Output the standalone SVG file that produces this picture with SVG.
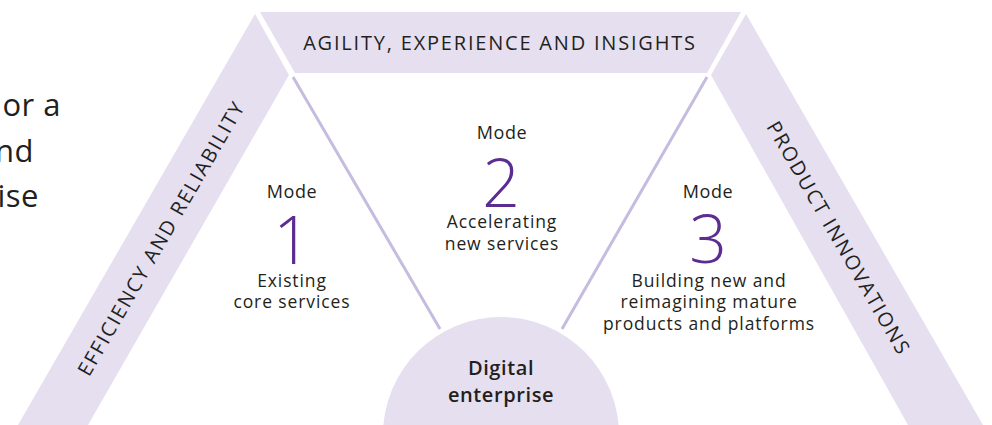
<svg xmlns="http://www.w3.org/2000/svg" width="992" height="425" viewBox="0 0 992 425">
<style>
.band{fill:#e5dff0}
.conn{stroke:#c6bcdf;stroke-width:3;fill:none}
.t{font-family:"Open Sans","Liberation Sans",sans-serif;fill:#231f20}
.cap{font-size:20px;letter-spacing:1.8px}
.mode{font-size:18px;letter-spacing:0.6px;text-anchor:middle}
.desc{font-size:17.5px;letter-spacing:0.9px;text-anchor:middle}
.num{font-family:"Open Sans","Liberation Sans",sans-serif;font-weight:300;font-size:66px;fill:#5c2d91;text-anchor:middle}
.big{font-size:31px;letter-spacing:0.5px;text-anchor:end}
.de{font-size:20px;font-weight:600;letter-spacing:0.6px;text-anchor:middle}
</style>
<rect width="992" height="425" fill="#ffffff"/>
<g id="intro-text">
<text class="t big" x="61" y="116">or a</text>
<text class="t big" x="34" y="162">nd</text>
<text class="t big" x="39" y="207">ise</text>
</g>
<g id="band-top">
<polygon class="band" points="260,12 741,12 707,73 295,73"/>
<text class="t cap" x="500" y="50" text-anchor="middle">AGILITY, EXPERIENCE AND INSIGHTS</text>
</g>
<g id="band-left">
<polygon class="band" points="255,14 289,75 88,425 18,425"/>
<text class="t cap" transform="translate(161,238) rotate(-60)" text-anchor="middle" dominant-baseline="central">EFFICIENCY AND RELIABILITY</text>
</g>
<g id="band-right">
<polygon class="band" points="746,14 983,425 908,425 711,75"/>
<text class="t cap" transform="translate(839,238) rotate(60)" text-anchor="middle" dominant-baseline="central">PRODUCT INNOVATIONS</text>
</g>
<g id="connectors">
<line class="conn" x1="293" y1="77" x2="440" y2="329"/>
<line class="conn" x1="707" y1="77" x2="562" y2="329"/>
</g>
<g id="mode1">
<text class="t mode" x="292" y="198">Mode</text>
<text class="num" x="292" y="264">1</text>
<text class="t desc" x="292" y="287">Existing</text>
<text class="t desc" x="292" y="308">core services</text>
</g>
<g id="mode2">
<text class="t mode" x="502" y="139">Mode</text>
<text class="num" x="501" y="207">2</text>
<text class="t desc" x="502" y="228">Accelerating</text>
<text class="t desc" x="502" y="250">new services</text>
</g>
<g id="mode3">
<text class="t mode" x="708" y="198">Mode</text>
<text class="num" x="708" y="263">3</text>
<text class="t desc" x="709" y="287">Building new and</text>
<text class="t desc" x="709" y="308">reimagining mature</text>
<text class="t desc" x="709" y="330">products and platforms</text>
</g>
<g id="digital-enterprise">
<circle class="band" cx="501" cy="435" r="118"/>
<text class="t de" x="501" y="375">Digital</text>
<text class="t de" x="501" y="402">enterprise</text>
</g>
</svg>
